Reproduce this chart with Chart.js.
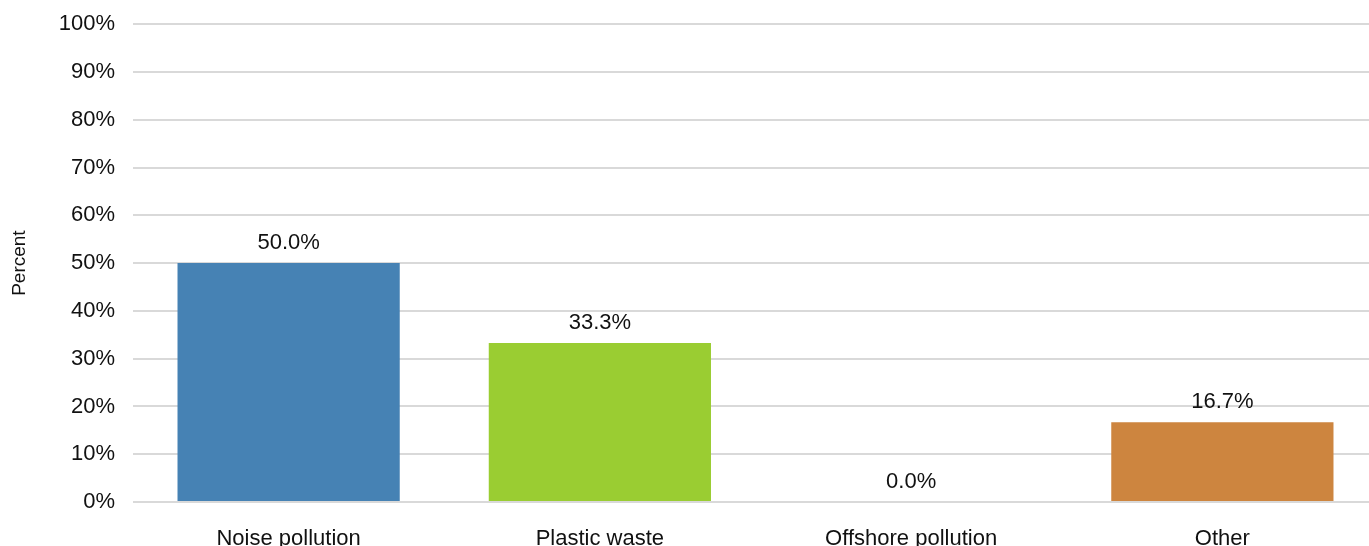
<!DOCTYPE html>
<html>
<head>
<meta charset="utf-8">
<script src="https://cdn.jsdelivr.net/npm/chart.js@4"></script>
<style>
  html, body { margin: 0; padding: 0; background: #fff; overflow: hidden; }
  #wrap { width: 1369px; height: 546px; overflow: hidden; }
  #chart { display: block; margin-top: -7px; }
</style>
</head>
<body>
<div id="wrap"><canvas id="chart" width="1378" height="569"></canvas></div>
<script>
const categories = ['Noise pollution', 'Plastic waste', 'Offshore pollution', 'Other'];
const percentValues = [50.0, 33.3, 0.0, 16.7];
const barColors = ['#4682B4', '#9ACD32', '#8B8B8B', '#CD853F'];
const yTicks = [0, 10, 20, 30, 40, 50, 60, 70, 80, 90, 100];

const FONT = "'Liberation Sans', Arial, sans-serif";

// draw the value above each bar (no datalabels plugin offline)
const valueLabels = {
    id: 'valueLabels',
    afterDatasetsDraw(chart) {
        const c = chart.ctx;
        const meta = chart.getDatasetMeta(0);
        c.save();
        c.font = '22px ' + FONT;
        c.fillStyle = '#111';
        c.textAlign = 'center';
        c.textBaseline = 'middle';
        meta.data.forEach((bar, i) => {
            c.fillText(percentValues[i].toFixed(1) + '%', bar.x, bar.y - 20);
        });
        c.restore();
    }
};

new Chart(document.getElementById('chart'), {
    type: 'bar',
    data: {
        labels: categories,
        datasets: [{
            label: 'Percent',
            data: percentValues,
            backgroundColor: barColors,
            borderWidth: 0,
            categoryPercentage: 1,
            barPercentage: 0.714
        }]
    },
    options: {
        responsive: false,
        animation: false,
        layout: { padding: { top: 17, left: 0, right: 0, bottom: 0 } },
        plugins: {
            legend: { display: false },
            tooltip: { enabled: false }
        },
        scales: {
            x: {
                grid: { display: false, drawTicks: false },
                border: { display: false },
                ticks: {
                    color: '#111',
                    font: { family: FONT, size: 22 },
                    padding: 24,
                    maxRotation: 0
                },
                afterFit(scale) { scale.height = 60; }
            },
            y: {
                min: 0,
                max: 100,
                afterBuildTicks(scale) { scale.ticks = yTicks.map(v => ({ value: v })); },
                grid: { color: '#d9d9d9', lineWidth: 2, drawTicks: false },
                border: { display: false },
                ticks: {
                    color: '#111',
                    font: { family: FONT, size: 22 },
                    padding: 18,
                    callback: v => v + '%'
                },
                title: {
                    display: true,
                    text: 'Percent',
                    color: '#111',
                    font: { family: FONT, size: 19 },
                    padding: { top: 8, bottom: 0 }
                },
                afterFit(scale) { scale.width = 133; }
            }
        }
    },
    plugins: [valueLabels]
});
</script>
</body>
</html>
